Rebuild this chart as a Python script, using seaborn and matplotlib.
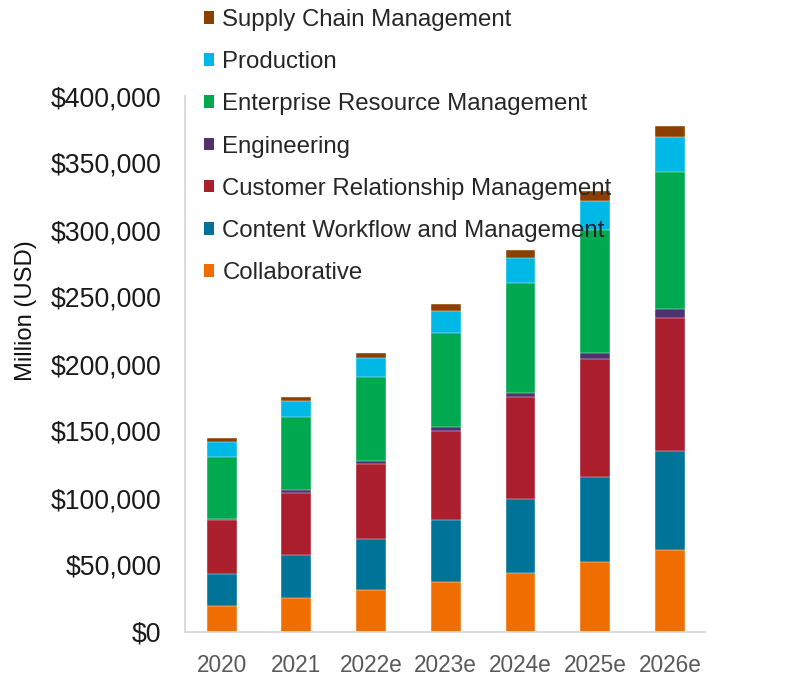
import matplotlib
matplotlib.use("Agg")
import matplotlib.pyplot as plt
from matplotlib.patches import Patch
import seaborn as sns
import pandas as pd
import numpy as np

# data (million USD)
years = ["2020", "2021", "2022e", "2023e", "2024e", "2025e", "2026e"]
collaborative = [19400, 25400, 31400, 37400, 44400, 52300, 61300]
content_workflow = [24000, 31700, 37900, 45900, 54600, 63600, 73600]
crm = [40100, 46800, 56300, 66800, 76700, 88000, 99400]
engineering = [700, 2000, 2300, 2700, 3000, 4300, 6700]
erm = [46600, 54800, 62500, 70300, 81500, 91600, 102500]
production = [11000, 11800, 14000, 16200, 19000, 22200, 26200]
supply_chain = [2800, 3000, 3800, 5700, 6000, 6800, 7700]

segments = ["Collaborative", "Content Workflow and Management",
            "Customer Relationship Management", "Engineering",
            "Enterprise Resource Management", "Production",
            "Supply Chain Management"]
values = [collaborative, content_workflow, crm, engineering, erm,
          production, supply_chain]
colors = ["#F06E00", "#007399", "#AA1E2E", "#55306E", "#00A84F",
          "#00B8E6", "#8B4000"]

df = pd.DataFrame(dict(zip(segments, values)), index=years)
cum = df.cumsum(axis=1)

sns.set_theme(style="white")
plt.rcParams["font.family"] = ["Liberation Sans", "DejaVu Sans"]

fig = plt.figure(figsize=(7.9, 6.76), dpi=100)
ax = fig.add_axes([185 / 790, 1 - 632 / 676, 520 / 790, 536 / 676])

# draw cumulative totals from top layer down so each segment shows
for seg, col in reversed(list(zip(segments, colors))):
    plot_df = pd.DataFrame({"year": years, "value": cum[seg].values})
    sns.barplot(data=plot_df, x="year", y="value", color=col, saturation=1,
                width=0.4, ax=ax, edgecolor="white", linewidth=0.3)

ax.set_xlim(-0.49, 6.47)
ax.set_ylim(0, 400000)
ax.set_yticks(np.arange(0, 400001, 50000))
ax.set_yticklabels([f"${v:,.0f}" for v in np.arange(0, 400001, 50000)])
ax.set_xlabel("")
ax.set_ylabel("Million (USD)", fontsize=17.1, color="#111111")
ax.yaxis.set_label_coords(-0.285, 0.6)

ax.tick_params(axis="y", length=0, pad=17, labelsize=19.2, labelcolor="#1a1a1a")
ax.tick_params(axis="x", length=0, pad=15.5, labelsize=16.3, labelcolor="#595959")

for s in ["top", "right"]:
    ax.spines[s].set_visible(False)
for s in ["left", "bottom"]:
    ax.spines[s].set_color("#D9D9D9")
    ax.spines[s].set_linewidth(1.3)

handles = [Patch(facecolor=c, edgecolor="none", label=s)
           for s, c in reversed(list(zip(segments, colors)))]
fig.legend(handles=handles, loc="upper left",
           bbox_to_anchor=(204 / 790, 1 - 9 / 676), frameon=False,
           fontsize=17.3, handlelength=0.43, handleheight=0.43,
           handletextpad=0.33, labelspacing=0.84, borderpad=0,
           borderaxespad=0)

fig.savefig("out.png", dpi=100)
